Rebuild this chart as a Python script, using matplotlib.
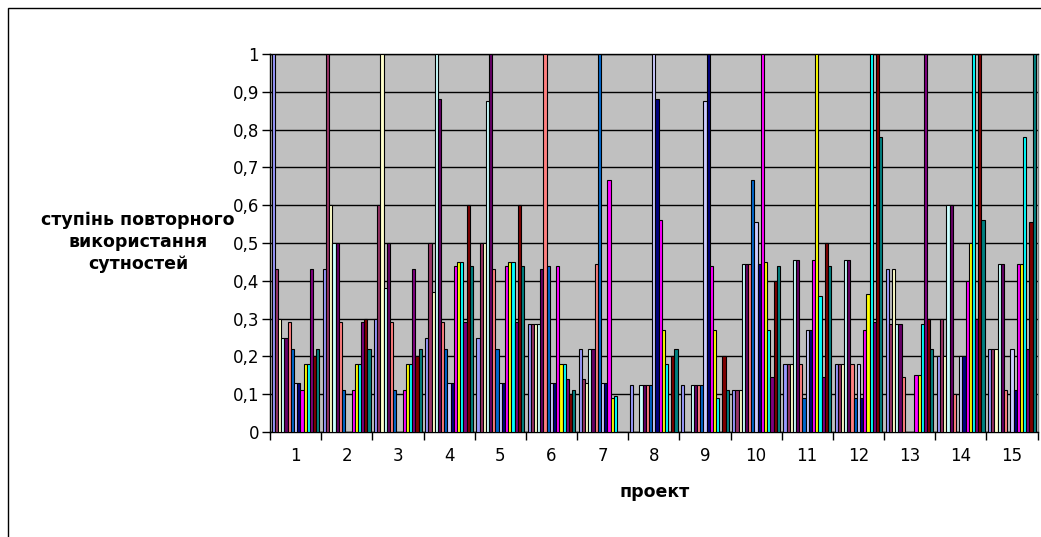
import matplotlib
matplotlib.use("Agg")
import matplotlib.pyplot as plt
import numpy as np
from matplotlib.patches import Rectangle

projects = [str(i) for i in range(1, 16)]

# one list per series (values for projects 1..15)
s01 = [1.0, 0.43, 0.30, 0.25, 0.25, 0.285, 0.22, 0.125, 0.125, 0.11, 0.18, 0.18, 0.43, 0.20, 0.22]
s02 = [0.43, 1.0, 0.60, 0.50, 0.50, 0.285, 0.14, 0.0, 0.0, 0.11, 0.18, 0.18, 0.285, 0.30, 0.22]
s03 = [0.30, 0.60, 1.0, 0.37, 0.50, 0.285, 0.13, 0.0, 0.0, 0.11, 0.18, 0.18, 0.43, 0.20, 0.22]
s04 = [0.25, 0.50, 0.38, 1.0, 0.875, 0.285, 0.22, 0.125, 0.125, 0.445, 0.455, 0.455, 0.285, 0.60, 0.445]
s05 = [0.25, 0.50, 0.50, 0.88, 1.0, 0.43, 0.22, 0.125, 0.125, 0.445, 0.455, 0.455, 0.285, 0.60, 0.445]
s06 = [0.29, 0.29, 0.29, 0.29, 0.43, 1.0, 0.445, 0.125, 0.125, 0.445, 0.18, 0.18, 0.145, 0.10, 0.11]
s07 = [0.22, 0.11, 0.11, 0.22, 0.22, 0.44, 1.0, 0.125, 0.125, 0.667, 0.09, 0.09, 0.0, 0.0, 0.0]
s08 = [0.13, 0.0, 0.0, 0.13, 0.13, 0.13, 0.13, 1.0, 0.875, 0.556, 0.27, 0.18, 0.0, 0.20, 0.22]
s09 = [0.13, 0.0, 0.0, 0.13, 0.13, 0.13, 0.13, 0.88, 1.0, 0.445, 0.27, 0.09, 0.0, 0.20, 0.11]
s10 = [0.11, 0.11, 0.11, 0.44, 0.44, 0.44, 0.667, 0.56, 0.44, 1.0, 0.455, 0.27, 0.15, 0.40, 0.445]
s11 = [0.18, 0.18, 0.18, 0.45, 0.45, 0.18, 0.09, 0.27, 0.27, 0.45, 1.0, 0.365, 0.15, 0.50, 0.445]
s12 = [0.18, 0.18, 0.18, 0.45, 0.45, 0.18, 0.095, 0.18, 0.09, 0.27, 0.36, 1.0, 0.285, 1.0, 0.78]
s13 = [0.43, 0.29, 0.43, 0.29, 0.29, 0.14, 0.0, 0.0, 0.0, 0.145, 0.145, 0.29, 1.0, 0.30, 0.22]
s14 = [0.20, 0.30, 0.20, 0.60, 0.60, 0.10, 0.0, 0.20, 0.20, 0.40, 0.50, 1.0, 0.30, 1.0, 0.555]
s15 = [0.22, 0.22, 0.22, 0.44, 0.44, 0.11, 0.0, 0.22, 0.11, 0.44, 0.44, 0.78, 0.22, 0.56, 1.0]

series = [s01, s02, s03, s04, s05, s06, s07, s08, s09, s10, s11, s12, s13, s14, s15]
colors = ["#9999FF", "#993366", "#FFFFCC", "#CCFFFF", "#660066", "#FF8080", "#0066CC",
          "#CCCCFF", "#000080", "#FF00FF", "#FFFF00", "#00FFFF", "#800080", "#800000", "#008080"]

yticks = [0, 0.1, 0.2, 0.3, 0.4, 0.5, 0.6, 0.7, 0.8, 0.9, 1.0]
ytick_labels = ["0", "0,1", "0,2", "0,3", "0,4", "0,5", "0,6", "0,7", "0,8", "0,9", "1"]

W, H = 1041, 537
fig = plt.figure(figsize=(W / 100, H / 100), dpi=100)
fig.patch.set_facecolor("white")

# outer chart border
fig.patches.append(Rectangle((8 / W, -0.5), 1.5, 1.5 - 8 / H, transform=fig.transFigure,
                             fill=False, edgecolor="black", linewidth=1.0))

left, right, bottom, top = 270 / W, 1037.5 / W, 1 - 432 / H, 1 - 54 / H
ax = fig.add_axes([left, bottom, right - left, top - bottom])
ax.set_facecolor("#C0C0C0")

n = len(series)
bw = 0.933 / n
centers = np.arange(len(projects)) + 0.5
for i, (vals, c) in enumerate(zip(series, colors)):
    ax.bar(centers + (i - (n - 1) / 2) * bw, vals, width=bw, color=c,
           edgecolor="black", linewidth=0.8, zorder=3)

ax.set_xlim(0, len(projects))
ax.set_ylim(0, 1)
ax.set_yticks(yticks)
ax.set_yticklabels(ytick_labels, fontsize=12)
ax.yaxis.grid(True, color="black", linewidth=1.0, zorder=1)
ax.set_axisbelow(True)

ax.set_xticks(np.arange(len(projects) + 1))
ax.set_xticklabels([])
ax.set_xticks(centers, minor=True)
ax.set_xticklabels(projects, minor=True, fontsize=12)
ax.tick_params(axis="x", which="major", length=6, width=1, direction="out")
ax.tick_params(axis="x", which="minor", length=0, pad=11)
ax.tick_params(axis="y", length=6, width=1, direction="out", pad=2)

for s in ["left", "bottom", "top"]:
    ax.spines[s].set_color("black")
    ax.spines[s].set_linewidth(1.0)
ax.spines["right"].set_color("#808080")
ax.spines["right"].set_linewidth(1.0)

fig.text(138 / W, 1 - 242 / H, "ступінь повторного\nвикористання\nсутностей",
         ha="center", va="center", multialignment="center", fontsize=12.5,
         fontweight="bold", linespacing=1.3)
fig.text(655 / W, 1 - 492 / H, "проект", ha="center", va="center",
         fontsize=12.5, fontweight="bold")

fig.savefig("out.png", dpi=100)
